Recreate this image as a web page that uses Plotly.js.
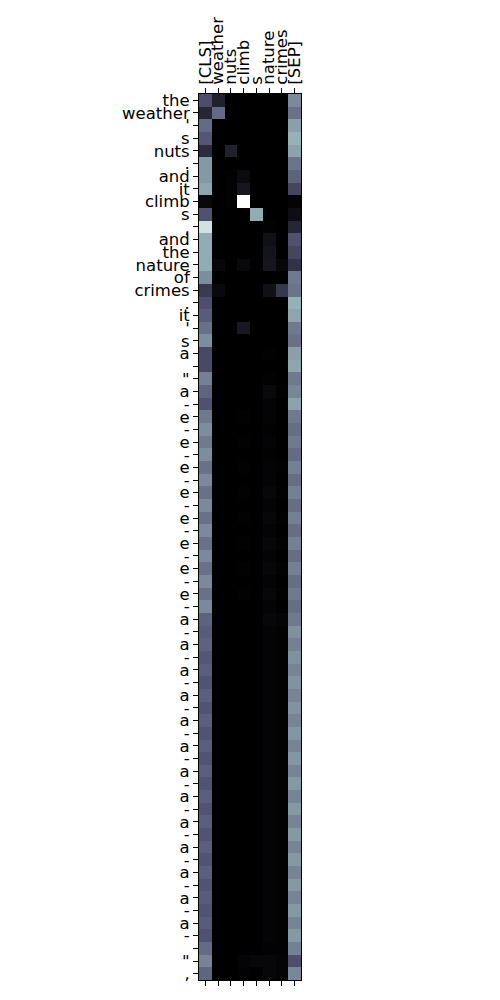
<!DOCTYPE html>
<html>
<head>
<meta charset="utf-8">
<script src="https://cdn.plot.ly/plotly-3.0.1.min.js"></script>
<style>html,body{margin:0;padding:0;background:#fff;}</style>
</head>
<body>
<div id="chart" style="width:500px;height:1000px;"></div>
<script>
// Column (key) tokens
const xLabels = ["[CLS]", "weather", "nuts", "climb", "s", "nature", "crimes", "[SEP]"];

// Row (query) tokens
const yLabels = ["the","weather","'","s","nuts",".","and","it","climb","s",
  ",","and","the","nature","of","crimes",".","it","'","s",
  "a","","\"","a","-","e","-","e","-","e",
  "-","e","-","e","-","e","-","e","-","e",
  "-","a","-","a","-","a","-","a","-","a",
  "-","a","-","a","-","a","-","a","-","a",
  "-","a","-","a","-","a","-","","\"",","];

// Attention weights per key column (one value per row)
const colCLS = [0.35,0.17,0.45,0.38,0.20,0.60,0.60,0.64,0.04,0.36,
  0.87,0.66,0.66,0.66,0.56,0.26,0.35,0.40,0.47,0.56,
  0.33,0.33,0.52,0.43,0.36,0.50,0.56,0.50,0.56,0.47,
  0.55,0.47,0.55,0.47,0.55,0.47,0.55,0.47,0.55,0.47,
  0.55,0.42,0.40,0.42,0.38,0.41,0.37,0.41,0.37,0.41,
  0.37,0.41,0.37,0.41,0.37,0.41,0.37,0.41,0.37,0.41,
  0.37,0.41,0.37,0.40,0.37,0.40,0.36,0.45,0.53,0.43];
const colWeather = [0.15,0.45,0,0,0,0,0,0,0,0,
  0,0,0,0.03,0,0.04,0,0,0,0,
  0,0,0,0,0,0,0,0,0,0,
  0,0,0,0,0,0,0,0,0,0,
  0,0,0,0,0,0,0,0,0,0,
  0,0,0,0,0,0,0,0,0,0,
  0,0,0,0,0,0,0,0,0,0];
const colNuts = [0,0,0,0,0.15,0,0.01,0.01,0.01,0,
  0,0,0,0,0,0,0,0,0,0,
  0,0,0,0,0,0,0,0,0,0,
  0,0,0,0,0,0,0,0,0,0,
  0,0,0,0,0,0,0,0,0,0,
  0,0,0,0,0,0,0,0,0,0,
  0,0,0,0,0,0,0,0,0,0];
const colClimb = [0,0,0,0,0,0,0.05,0.10,1.0,0,
  0,0,0,0.04,0,0,0,0,0.11,0,
  0,0,0,0,0,0.01,0,0.01,0,0.01,
  0,0.01,0,0.01,0,0.01,0,0.01,0,0.01,
  0,0,0,0,0,0,0,0,0,0,
  0,0,0,0,0,0,0,0,0,0,
  0,0,0,0,0,0,0,0,0.02,0.01];
const colS = [0,0,0,0,0,0,0,0,0,0.66,
  0,0,0,0,0,0,0,0,0,0,
  0,0,0,0,0,0,0,0,0,0,
  0,0,0,0,0,0,0,0,0,0,
  0,0,0,0,0,0,0,0,0,0,
  0,0,0,0,0,0,0,0,0,0,
  0,0,0,0,0,0,0,0,0.03,0];
const colNature = [0,0,0,0,0,0,0,0,0,0,
  0.01,0.07,0.09,0.10,0,0.07,0,0,0,0,
  0.01,0,0.01,0.04,0.02,0.02,0.01,0.02,0.01,0.02,
  0.02,0.03,0.02,0.03,0.02,0.03,0.02,0.03,0.02,0.03,
  0.02,0.03,0.02,0.02,0.02,0.02,0.02,0.02,0.02,0.02,
  0.02,0.02,0.02,0.02,0.02,0.02,0.02,0.02,0.02,0.02,
  0.02,0.02,0.02,0.02,0.02,0.02,0.02,0.01,0.03,0.03];
const colCrimes = [0,0,0,0,0,0,0,0,0,0,
  0,0,0,0.03,0,0.25,0,0,0,0,
  0,0,0,0.01,0,0,0,0,0,0.01,
  0,0.01,0,0.01,0,0.01,0,0.01,0,0.01,
  0,0.02,0.01,0.01,0.01,0.01,0.01,0.01,0.01,0.01,
  0.01,0.01,0.01,0.01,0.01,0.01,0.01,0.01,0.01,0.01,
  0.01,0.01,0.01,0.01,0.01,0.01,0.01,0.01,0.02,0.02];
const colSEP = [0.55,0.47,0.62,0.68,0.63,0.48,0.42,0.31,0.02,0.06,
  0.17,0.36,0.31,0.23,0.50,0.48,0.68,0.64,0.50,0.47,
  0.62,0.64,0.50,0.54,0.63,0.50,0.46,0.50,0.45,0.52,
  0.46,0.52,0.46,0.52,0.46,0.52,0.46,0.52,0.46,0.50,
  0.46,0.50,0.57,0.52,0.57,0.53,0.58,0.53,0.58,0.53,
  0.59,0.53,0.59,0.53,0.60,0.53,0.60,0.53,0.60,0.53,
  0.60,0.53,0.60,0.53,0.60,0.53,0.60,0.52,0.35,0.54];

const columns = [colCLS, colWeather, colNuts, colClimb, colS, colNature, colCrimes, colSEP];
const z = yLabels.map((_, r) => columns.map(c => c[r]));
const xIdx = xLabels.map((_, i) => i);
const yIdx = yLabels.map((_, i) => i);

// matplotlib "bone" colormap
const bone = [[0, 'rgb(0,0,0)'], [0.365079, 'rgb(81,81,113)'], [0.746032, 'rgb(166,198,198)'], [1, 'rgb(255,255,255)']];

const font = {family: 'DejaVu Sans', size: 16.5, color: '#000'};

Plotly.newPlot('chart', [{
  type: 'heatmap', x: xIdx, y: yIdx, z: z,
  colorscale: bone, zmin: 0, zmax: 1, showscale: false, hoverinfo: 'skip'
}], {
  width: 500, height: 1000,
  margin: {l: 199, r: 199, t: 94, b: 20},
  paper_bgcolor: '#fff', plot_bgcolor: '#fff',
  font: font,
  xaxis: {
    side: 'top', tickmode: 'array', tickvals: xIdx, ticktext: xLabels, tickangle: -90,
    range: [-0.5, 7.5], ticks: 'outside', ticklen: 5, tickwidth: 1, tickcolor: '#000',
    showline: true, linecolor: '#000', linewidth: 1, mirror: 'ticks',
    showgrid: false, zeroline: false, tickfont: font, fixedrange: true
  },
  yaxis: {
    tickmode: 'array', tickvals: yIdx, ticktext: yLabels,
    range: [69.5, -0.5], ticks: 'outside', ticklen: 5, tickwidth: 1, tickcolor: '#000',
    showline: true, linecolor: '#000', linewidth: 1, mirror: true,
    showgrid: false, zeroline: false, tickfont: font, fixedrange: true
  }
}, {displayModeBar: false, staticPlot: true});
</script>
</body>
</html>
